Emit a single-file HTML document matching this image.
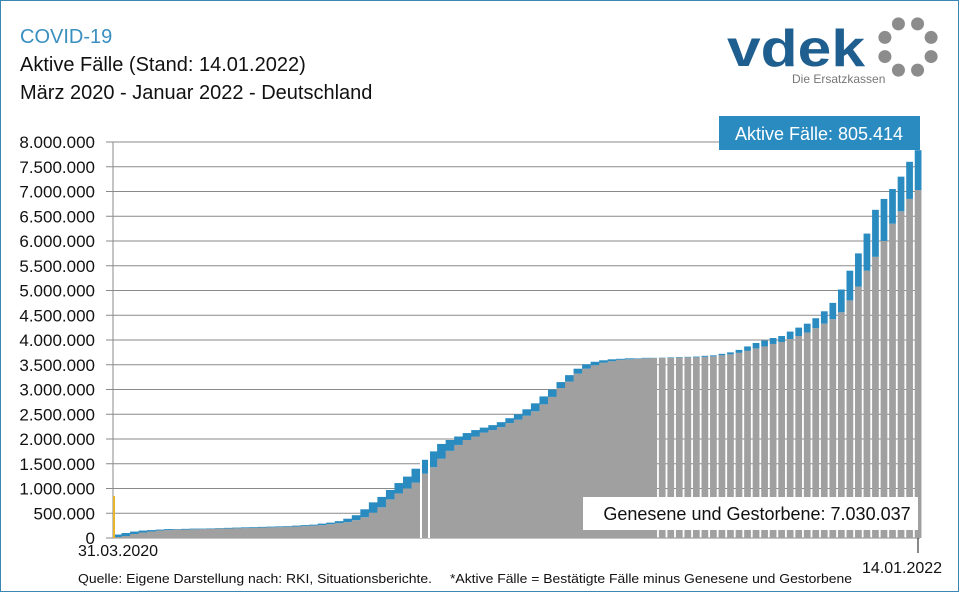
<!DOCTYPE html>
<html><head><meta charset="utf-8"><style>
html,body{margin:0;padding:0;background:#fff}
svg{display:block;font-family:"Liberation Sans",sans-serif}
</style></head><body>
<svg id="chart" width="960" height="593" viewBox="0 0 960 593">
<rect x="0.5" y="0.5" width="958" height="591" fill="#fff" stroke="#3a87b5"/>
<text x="20" y="43" font-size="20" fill="#3a8fc0">COVID-19</text>
<text x="20" y="71" font-size="20" fill="#111">Aktive Fälle (Stand: 14.01.2022)</text>
<text x="20" y="99" font-size="20" fill="#111">März 2020 - Januar 2022 - Deutschland</text>
<g>
<text x="727" y="66" font-size="52" font-weight="bold" fill="#1f5f8f" textLength="138" lengthAdjust="spacingAndGlyphs">vdek</text>
<text x="792" y="83" font-size="12" fill="#777">Die Ersatzkassen</text>
<g id="ring" fill="#8c8c8c"></g>
</g>
<g id="grid"></g>
<g id="bars"></g>
<g id="axes"></g>
<rect x="719" y="116" width="201" height="34" fill="#2a8bc0"/>
<text x="819" y="140" font-size="18" fill="#fff" text-anchor="middle">Aktive Fälle: 805.414</text>
<rect x="583" y="497" width="335" height="33" fill="#fff"/>
<text x="757" y="520" font-size="18" fill="#111" text-anchor="middle">Genesene und Gestorbene: 7.030.037</text>
<text x="78" y="556" font-size="16" fill="#111">31.03.2020</text>
<text x="862" y="573" font-size="16" fill="#111">14.01.2022</text>
<text x="78" y="583" font-size="13" fill="#111" textLength="354" lengthAdjust="spacingAndGlyphs">Quelle: Eigene Darstellung nach: RKI, Situationsberichte.</text>
<text x="450" y="583" font-size="13" fill="#111" textLength="402" lengthAdjust="spacingAndGlyphs">*Aktive Fälle = Bestätigte Fälle minus Genesene und Gestorbene</text>
</svg>
<script>
// weekly totals (confirmed, millions) and recovered+deceased (millions)
const totals=[0.07,0.10,0.13,0.15,0.16,0.17,0.18,0.18,0.185,0.19,0.19,0.195,0.20,0.205,0.21,0.215,0.22,0.225,0.23,0.235,0.24,0.25,0.26,0.27,0.29,0.31,0.34,0.39,0.46,0.58,0.72,0.83,0.97,1.11,1.24,1.40,1.58,1.75,1.90,1.98,2.05,2.12,2.18,2.23,2.28,2.34,2.42,2.50,2.60,2.72,2.86,3.00,3.15,3.29,3.42,3.51,3.56,3.59,3.61,3.62,3.63,3.63,3.64,3.64,3.645,3.65,3.655,3.66,3.665,3.68,3.69,3.72,3.75,3.80,3.87,3.94,3.99,4.04,4.08,4.17,4.25,4.33,4.44,4.58,4.75,5.02,5.40,5.75,6.15,6.63,6.85,7.05,7.30,7.60,7.835];
const recovered=[0.02,0.04,0.08,0.11,0.13,0.15,0.16,0.17,0.17,0.175,0.18,0.185,0.19,0.19,0.195,0.20,0.205,0.21,0.215,0.22,0.225,0.23,0.24,0.25,0.26,0.28,0.30,0.32,0.36,0.42,0.51,0.62,0.78,0.90,1.00,1.12,1.30,1.43,1.60,1.76,1.88,1.98,2.05,2.13,2.18,2.24,2.32,2.39,2.47,2.56,2.70,2.85,3.03,3.16,3.32,3.42,3.49,3.54,3.57,3.60,3.61,3.62,3.63,3.635,3.64,3.64,3.645,3.65,3.65,3.66,3.67,3.69,3.71,3.74,3.78,3.83,3.87,3.92,3.96,4.02,4.08,4.15,4.24,4.33,4.42,4.56,4.80,5.08,5.40,5.68,6.00,6.35,6.60,6.85,7.03];
const yTicks=[0,500000,1000000,1500000,2000000,2500000,3000000,3500000,4000000,4500000,5000000,5500000,6000000,6500000,7000000,7500000,8000000];
const NS="http://www.w3.org/2000/svg";
const X0=113,X1=919,Y0=538,Y1=142,YMAX=8000000;
const n=totals.length;
const step=(X1-X0)/(n-1+0.5);
const y=v=>Y0-(v/YMAX)*(Y0-Y1);
const x=i=>X0+i*step;
function mk(tag,at,parent){const e=document.createElementNS(NS,tag);for(const k in at)e.setAttribute(k,at[k]);parent.appendChild(e);return e;}
const grid=document.getElementById('grid');
const fmt=v=>v.toString().replace(/\B(?=(\d{3})+(?!\d))/g,'.');
yTicks.forEach(t=>{
  const l=mk('line',{x1:106,x2:920,y1:y(t),y2:y(t),stroke:'#8a8a8a','stroke-width':1},grid);
  
  
  const tx=mk('text',{x:95,y:y(t)+6,'font-size':17,'text-anchor':'end',fill:'#111'},grid);
  tx.textContent=fmt(t);
  
  
});
const bars=document.getElementById('bars');
for(let i=0;i<n;i++){
  const weekly=i>=63;
  const w=weekly?step-1.8:step+0.6;
  const bx=x(i);
  const t=totals[i]*1e6,r=recovered[i]*1e6;
  const g=mk('rect',{x:bx,y:y(r),width:w,height:Y0-y(r),fill:'#a0a0a0'},bars);
  
  
  const a=mk('rect',{x:bx,y:y(t),width:w,height:Math.max(0,y(r)-y(t)),fill:'#2a8bc0'},bars);
  
  
}
[420,428].forEach(gx=>{const e=mk('rect',{x:gx,y:450,width:2,height:88,fill:'#fff'},bars);

});
const axes=document.getElementById('axes');
const ya=mk('line',{x1:X0,x2:X0,y1:Y1,y2:Y0,stroke:'#8a8a8a'},axes);


const yl=mk('line',{x1:114,x2:114,y1:496,y2:538,stroke:'#e8b62a','stroke-width':2},axes);


const em=mk('line',{x1:918,x2:918,y1:538,y2:553,stroke:'#111'},axes);


const ring=document.getElementById('ring');
for(let k=0;k<8;k++){const an=k*Math.PI/4+Math.PI/8;const cx=908+25*Math.cos(an),cy=47+25*Math.sin(an);
const c=mk('circle',{cx:cx,cy:cy,r:6.5},ring);

}
</script>
</body></html>
